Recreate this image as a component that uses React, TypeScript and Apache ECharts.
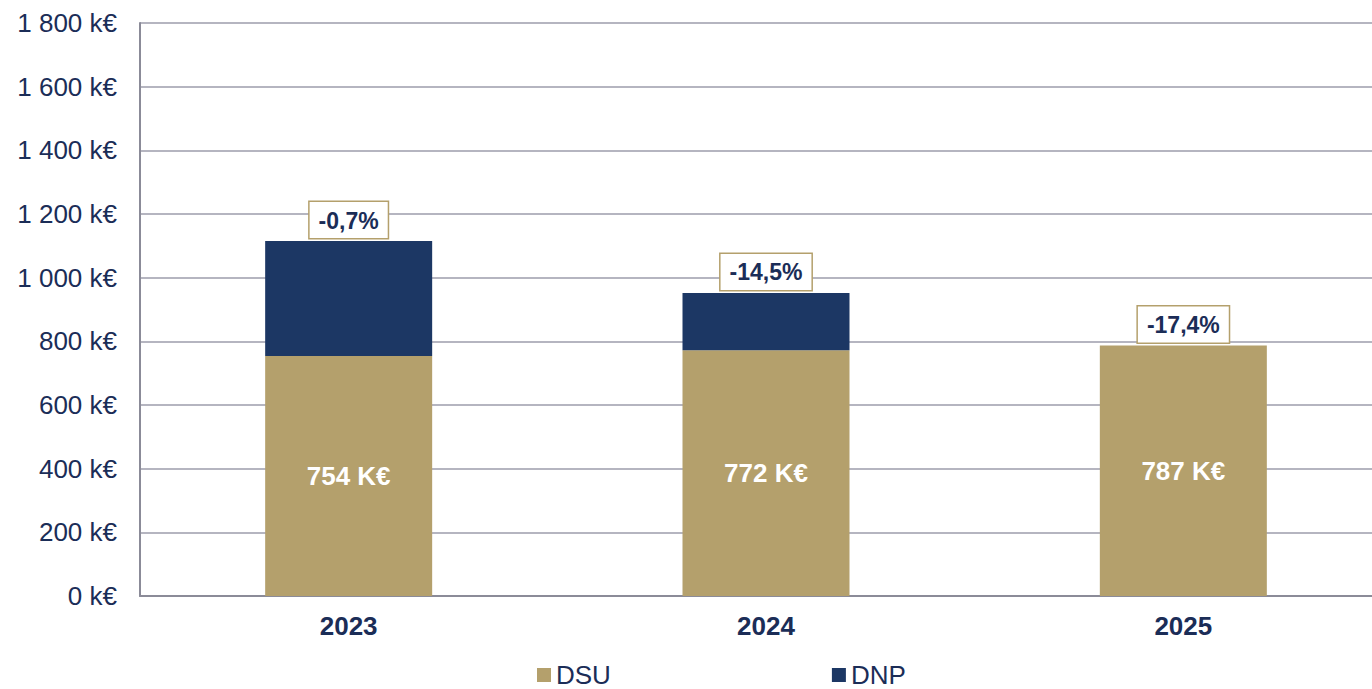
import React, { useEffect, useRef } from "react";
import * as echarts from "echarts";

const categories = ["2023", "2024", "2025"];
const dsu = [754, 772, 787];
const dnp = [361, 180, 0];
const changes = ["-0,7%", "-14,5%", "-17,4%"];

const GOLD = "#b4a06c";
const NAVY = "#1c3764";
const TEXT = "#1b2d57";

function fmtK(v: number) {
  return String(v).replace(/\B(?=(\d{3})+(?!\d))/g, " ") + " k€";
}

export default function App() {
  const ref = useRef<HTMLDivElement>(null);
  useEffect(() => {
    if (!ref.current) return;
    const chart = echarts.init(ref.current, undefined, { renderer: "svg" });
    const totals = dsu.map((v, i) => v + dnp[i]);
    chart.setOption({
      animation: false,
      textStyle: { fontFamily: "Liberation Sans, Arial, sans-serif" },
      grid: { left: 140, right: 0, top: 23, bottom: 93, containLabel: false },
      legend: {
        top: 662,
        left: 537,
        padding: 0,
        itemWidth: 14,
        itemHeight: 14,
        itemGap: 221,
        icon: "rect",
        textStyle: { fontSize: 26, color: TEXT, lineHeight: 20 },
        data: ["DSU", "DNP"],
      },
      xAxis: {
        type: "category",
        data: categories,
        axisLine: { lineStyle: { color: "#8b8b98", width: 2 } },
        axisTick: { show: false },
        axisLabel: { fontSize: 26, fontWeight: "bold", color: TEXT, margin: 17 },
      },
      yAxis: {
        type: "value",
        min: 0,
        max: 1800,
        interval: 200,
        axisLine: { show: true, lineStyle: { color: "#8b8b98", width: 2 } },
        axisTick: { show: false },
        splitLine: { lineStyle: { color: "#9c9cab", width: 1.5 } },
        axisLabel: { fontSize: 26, color: TEXT, margin: 23, formatter: (v: number) => fmtK(v) },
      },
      series: [
        {
          name: "DSU",
          type: "bar",
          stack: "t",
          data: dsu,
          barWidth: 167,
          itemStyle: { color: GOLD },
          label: {
            show: true,
            position: "inside",
            formatter: (p: any) => p.value + " K€",
            color: "#fff",
            fontWeight: "bold",
            fontSize: 26,
          },
        },
        {
          name: "DNP",
          type: "bar",
          stack: "t",
          data: dnp,
          barWidth: 167,
          itemStyle: { color: NAVY },
        },
        {
          name: "change",
          type: "scatter",
          data: totals,
          symbolSize: 0,
          silent: true,
          itemStyle: { opacity: 1 },
          label: {
            show: true,
            position: "top",
            distance: 3,
            formatter: (p: any) => changes[p.dataIndex],
            color: TEXT,
            fontWeight: "bold",
            fontSize: 23,
            backgroundColor: "#fff",
            borderColor: GOLD,
            borderWidth: 1.5,
            padding: [7, 9, 6, 9],
          },
          z: 10,
        },
      ],
    });
    return () => chart.dispose();
  }, []);
  return (
    <div
      style={{ position: "absolute", left: 0, top: 0, width: 1372, height: 689, overflow: "hidden" }}
    >
      <div ref={ref} style={{ width: 1392, height: 689 }} />
    </div>
  );
}
